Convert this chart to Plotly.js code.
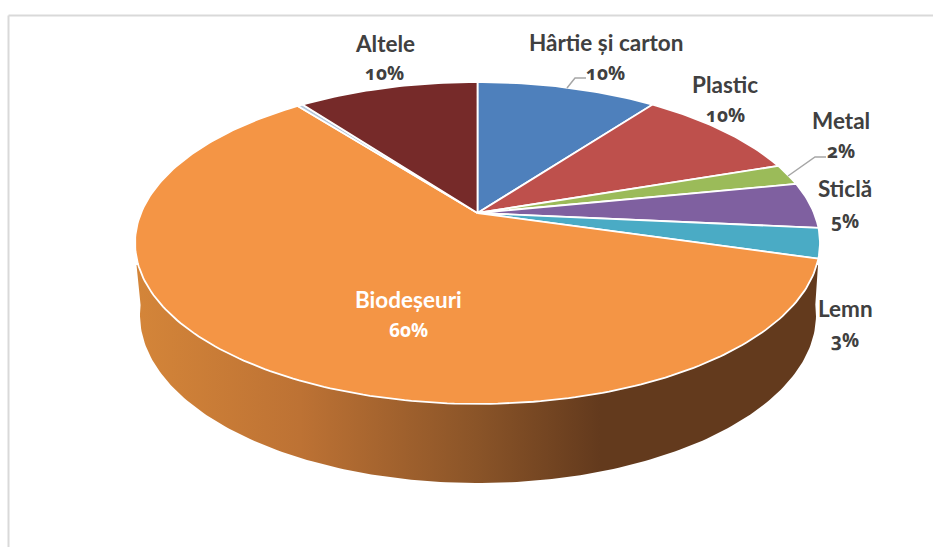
<!DOCTYPE html>
<html>
<head>
<meta charset="utf-8">
<script src="https://cdn.plot.ly/plotly-3.0.1.min.js"></script>
<style>
html,body{margin:0;padding:0;background:#fff}
#chart{width:933px;height:547px}
svg text{font-variant-numeric:oldstyle-nums;font-feature-settings:"onum" 1,"lnum" 0;}
</style>
</head>
<body>
<div id="chart"></div>
<script>
// Data (percent of waste, clockwise from the top)
const categories = ['Hârtie și carton','Plastic','Metal','Sticlă','Lemn','Biodeșeuri','Nespecificat','Altele'];
const values     = [10.2, 9.6, 2.1, 4.6, 3, 60, 0.3, 10.2];
const percentLabels = ['10%','10%','2%','5%','3%','60%','','10%'];
const sliceColors = ['#4e80bc','#be504c','#9bbb59','#7f60a0','#4aabc5','#f49545','#b4c6da','#762a29'];

// Projection of the tilted disc on the page
const hubX = 477.5, hubY = 213, radiusX = 336.5, radiusY = 155.4, tilt = 0.186;
function rim(theta){
  const w = 1 + tilt*Math.cos(theta);
  return [hubX + radiusX*Math.sin(theta)/w, hubY - radiusY*Math.cos(theta)/w];
}
const total = values.reduce((a,b)=>a+b,0);
const traces = [];

// Side wall: lower rim ellipse, joined to the upper rim at both sides
const lowerCx = 478, lowerCy = 315, lowerRx = 338, lowerRy = 168;
const wallX = [], wallY = [];
for (let a = -0.02*Math.PI; a <= 1.0201*Math.PI; a += Math.PI/180){
  wallX.push(lowerCx + lowerRx*Math.cos(a));
  wallY.push(lowerCy + lowerRy*Math.sin(a));
}
wallX.push(136.5, 477.5, 818); wallY.push(265, 265, 265);
traces.push({
  type:'scatter', mode:'lines', x:wallX, y:wallY, fill:'toself',
  line:{width:0, color:'rgba(0,0,0,0)'}, hoverinfo:'skip', showlegend:false,
  fillgradient:{type:'horizontal', colorscale:[
    [0,'#d48539'],[0.24,'#bd7234'],[0.5,'#8a5428'],[0.68,'#633a1d'],[1,'#633a1d']
  ]}
});

// Top face: one polygon per slice, from the values
let cum = 0;
values.forEach((v,i)=>{
  const a0 = cum/total*2*Math.PI; cum += v;
  const a1 = cum/total*2*Math.PI;
  const xs = [hubX], ys = [hubY];
  const n = Math.max(2, Math.ceil((a1-a0)/(Math.PI/180)));
  for (let k=0;k<=n;k++){
    const p = rim(a0+(a1-a0)*k/n);
    xs.push(p[0]); ys.push(p[1]);
  }
  xs.push(hubX); ys.push(hubY);
  traces.push({
    type:'scatter', mode:'lines', x:xs, y:ys, fill:'toself', name:categories[i],
    fillcolor:sliceColors[i], line:{color:'#ffffff', width:1.8},
    hoverinfo:'name', showlegend:false
  });
});

// Label positions
const labelX = [605.5, 725, 841, 844.5, 845, 408, null, 384.5];
const nameY  = [42.5, 84.5, 120.5, 188, 308.5, 299.5, null, 43.5];
const pctY   = [73, 115, 151, 221, 340, 330, null, 73];
const annotations = [];
categories.forEach((c,i)=>{
  if(!percentLabels[i]) return;
  const col = i===5 ? '#ffffff' : '#404040';
  annotations.push({x:labelX[i], y:nameY[i], xref:'x', yref:'y', text:'<b>'+c+'</b>', showarrow:false,
    font:{family:'Lato, sans-serif', size:22.5, color:col}, xanchor:'center', yanchor:'middle'});
  annotations.push({x:labelX[i], y:pctY[i], xref:'x', yref:'y', text:'<b>'+percentLabels[i]+'</b>', showarrow:false,
    font:{family:'Open Sans, sans-serif', size:19, color:col}, xanchor:'center', yanchor:'middle'});
});

const layout = {
  width:933, height:547, margin:{l:0,r:0,t:0,b:0,pad:0},
  paper_bgcolor:'#ffffff', plot_bgcolor:'#ffffff',
  xaxis:{range:[0,933], visible:false, fixedrange:true},
  yaxis:{range:[547,0], visible:false, fixedrange:true},
  annotations,
  shapes:[
    {type:'line', xref:'x', yref:'y', x0:8.5, y0:15.5, x1:933, y1:15.5, line:{color:'#d9d9d9', width:2}, layer:'below'},
    {type:'line', xref:'x', yref:'y', x0:8.5, y0:15.5, x1:8.5, y1:547, line:{color:'#d9d9d9', width:2}, layer:'below'},
    {type:'path', xref:'x', yref:'y', path:'M567,88 L575,78 L586,78', line:{color:'#a6a6a6', width:1.5}},
    {type:'path', xref:'x', yref:'y', path:'M788,176 L815,157 L826,157', line:{color:'#a6a6a6', width:1.5}}
  ]
};
Plotly.newPlot('chart', traces, layout, {displayModeBar:false});
</script>
</body>
</html>
